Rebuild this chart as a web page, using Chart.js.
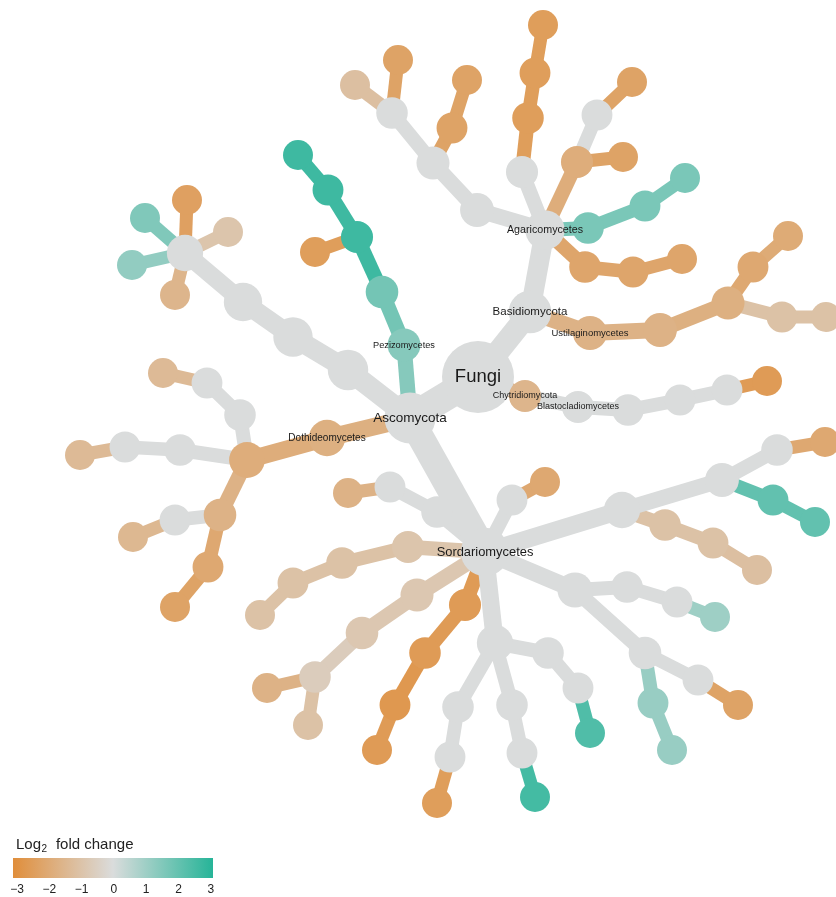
<!DOCTYPE html>
<html>
<head>
<meta charset="utf-8">
<title>Log2 fold change heat tree</title>
<script src="https://cdn.jsdelivr.net/npm/chart.js@4.4.1/dist/chart.umd.min.js"></script>
<style>
  html, body { margin: 0; padding: 0; background: #fff; }
  #wrap { width: 836px; height: 897px; position: relative; }
</style>
</head>
<body>
<div id="wrap"><canvas id="tree"></canvas></div>
<script>
// Taxon names (blank = unlabelled node)
const taxonNames = [
  'Fungi', 'Ascomycota', 'Basidiomycota', 'Chytridiomycota', 'Blastocladiomycetes', '', '', '', '', 'Agaricomycetes',
  'Ustilaginomycetes', '', '', '', '', '', '', '', '', '',
  '', '', '', '', '', '', '', '', '', '',
  '', '', '', '', '', '', '', '', 'Pezizomycetes', '',
  '', '', '', '', '', '', '', '', '', '',
  '', '', '', 'Dothideomycetes', '', '', '', '', '', '',
  '', '', '', '', '', '', 'Sordariomycetes', '', '', '',
  '', '', '', '', '', '', '', '', '', '',
  '', '', '', '', '', '', '', '', '', '',
  '', '', '', '', '', '', '', '', '', '',
  '', '', '', '', '', '', '', '', '', '',
  '', '', ''
];

// Parent index of every node (-1 = root)
const parentIndex = [
  -1, 0, 0, 0, 3, 4, 5, 6, 7, 2,
  2, 10, 11, 12, 13, 12, 15, 9, 17, 18,
  9, 20, 21, 9, 23, 23, 25, 9, 27, 28,
  29, 9, 31, 32, 33, 32, 35, 35, 1, 38,
  39, 40, 41, 40, 1, 44, 45, 46, 47, 47,
  47, 47, 47, 1, 53, 54, 55, 56, 54, 58,
  59, 54, 61, 62, 61, 64, 1, 66, 67, 68,
  66, 70, 66, 72, 73, 74, 73, 76, 72, 78,
  79, 66, 81, 82, 83, 81, 85, 86, 85, 88,
  66, 90, 91, 92, 90, 94, 95, 90, 97, 98,
  66, 100, 101, 102, 66, 104, 105, 106, 66, 108,
  109, 110, 110
];

// Layout coordinates of the heat tree
const layoutX = [
  478, 410, 530, 525, 578, 628, 680, 727, 767, 545,
  590, 660, 728, 753, 788, 782, 826, 588, 645, 685,
  585, 633, 682, 577, 623, 597, 632, 522, 528, 535,
  543, 477, 433, 452, 467, 392, 355, 398, 404, 382,
  357, 328, 298, 315, 348, 293, 243, 185, 187, 228,
  175, 145, 132, 327, 247, 240, 207, 163, 180, 125,
  80, 220, 208, 175, 175, 133, 485, 437, 390, 348,
  512, 545, 622, 722, 777, 825, 773, 815, 665, 713,
  757, 575, 627, 677, 715, 645, 698, 738, 653, 672,
  495, 548, 578, 590, 512, 522, 535, 458, 450, 437,
  465, 425, 395, 377, 408, 342, 293, 260, 417, 362,
  315, 267, 308
];
const layoutY = [
  377, 418, 312, 396, 407, 410, 400, 390, 381, 230,
  333, 330, 303, 267, 236, 317, 317, 228, 206, 178,
  267, 272, 259, 162, 157, 115, 82, 172, 118, 73,
  25, 210, 163, 128, 80, 113, 85, 60, 345, 292,
  237, 190, 155, 252, 370, 337, 302, 253, 200, 232,
  295, 218, 265, 438, 460, 415, 383, 373, 450, 447,
  455, 515, 567, 607, 520, 537, 552, 512, 487, 493,
  500, 482, 510, 480, 450, 442, 500, 522, 525, 543,
  570, 590, 587, 602, 617, 653, 680, 705, 703, 750,
  643, 653, 688, 733, 705, 753, 797, 707, 757, 803,
  605, 653, 705, 750, 547, 563, 583, 615, 595, 633,
  677, 688, 725
];

// Log2 fold change per taxon
const log2FoldChange = [
  0, 0, 0, -1.5, 0, 0, 0, 0, -2.5, 0,
  -1.6, -1.6, -1.7, -2.0, -1.9, -1.0, -1.0, 1.6, 1.6, 1.6,
  -2.1, -2.1, -2.1, -1.8, -2.2, 0, -2.2, 0, -2.4, -2.4,
  -2.4, 0, 0, -2.2, -2.2, 0, -1.1, -2.2, 1.4, 1.7,
  2.6, 2.6, 2.6, -2.4, 0, 0, 0, 0, -2.3, -0.9,
  -1.5, 1.5, 1.2, -1.7, -1.8, 0, 0, -1.3, 0, 0,
  -1.3, -1.6, -2.0, -2.2, 0, -1.4, 0, 0, 0, -1.6,
  0, -2.0, 0, 0, 0, -2.0, 2.0, 2.0, -1.0, -1.0,
  -1.1, 0, 0, 0, 1.0, 0, 0, -2.2, 1.1, 1.1,
  0, 0, 0, 2.3, 0, 0, 2.5, 0, 0, -2.4,
  -2.5, -2.5, -2.6, -2.5, -0.9, -1.0, -1.0, -1.0, -0.8, -0.8,
  -0.6, -1.6, -1.0
];

// OTU count per taxon (drives node and edge size)
const otuCount = [
  441, 121, 49, 4, 4, 3, 2, 2, 1, 30,
  9, 8, 6, 2, 1, 2, 1, 3, 2, 1,
  3, 2, 1, 4, 1, 2, 1, 4, 3, 2,
  1, 8, 6, 2, 1, 3, 1, 1, 6, 5,
  4, 2, 1, 1, 36, 30, 25, 16, 1, 1,
  1, 1, 1, 16, 14, 3, 2, 1, 3, 2,
  1, 5, 2, 1, 2, 1, 95, 3, 2, 1,
  2, 1, 16, 8, 3, 1, 2, 1, 3, 2,
  1, 12, 3, 2, 1, 5, 2, 1, 2, 1,
  16, 3, 2, 1, 3, 2, 1, 3, 2, 1,
  4, 3, 2, 1, 4, 3, 2, 1, 6, 5,
  3, 1, 1
];

// Colour legend ticks
const legendTicks = [-3, -2, -1, 0, 1, 2, 3];

const lowColor = [224, 142, 59];
const midColor = [218, 220, 220];
const highColor = [38, 180, 152];

function foldColor(v) {
  const t = Math.max(-1, Math.min(1, v / 3));
  const end = t < 0 ? lowColor : highColor;
  const f = Math.abs(t);
  const c = midColor.map((m, i) => Math.round(m + (end[i] - m) * f));
  return 'rgb(' + c.join(',') + ')';
}
function nodeRadius(n) { return 15 + 1.05 * (Math.sqrt(n) - 1); }
function edgeWidth(n) { return 13 + 1.55 * (Math.sqrt(n) - 1); }

// Edges: one small line dataset for each parent -> child link
const datasets = [];
parentIndex.forEach((p, i) => {
  if (p < 0) return;
  datasets.push({
    type: 'line',
    data: [{ x: layoutX[p], y: layoutY[p] }, { x: layoutX[i], y: layoutY[i] }],
    borderColor: foldColor(log2FoldChange[i]),
    borderWidth: edgeWidth(otuCount[i]),
    borderCapStyle: 'butt',
    pointRadius: 0,
    fill: false,
    clip: false,
    order: 1
  });
});

// Nodes on top
datasets.push({
  type: 'scatter',
  data: layoutX.map((x, i) => ({ x: x, y: layoutY[i] })),
  pointRadius: otuCount.map(nodeRadius),
  pointHoverRadius: otuCount.map(nodeRadius),
  backgroundColor: log2FoldChange.map(foldColor),
  borderWidth: 0,
  clip: false,
  order: 0
});

const labelPlugin = {
  id: 'taxonLabels',
  afterDatasetsDraw(chart) {
    const ctx = chart.ctx;
    const xs = chart.scales.x, ys = chart.scales.y;
    ctx.save();
    ctx.fillStyle = '#1a1a1a';
    ctx.textAlign = 'center';
    ctx.textBaseline = 'middle';
    taxonNames.forEach((name, i) => {
      if (!name) return;
      const size = 8 + 0.5 * Math.sqrt(otuCount[i]);
      ctx.font = size.toFixed(1) + 'px "Liberation Sans", Arial, sans-serif';
      ctx.fillText(name, xs.getPixelForValue(layoutX[i]), ys.getPixelForValue(layoutY[i]));
    });
    ctx.restore();
  },
  afterDraw(chart) {
    const ctx = chart.ctx;
    ctx.save();
    // legend title
    ctx.fillStyle = '#222';
    ctx.textBaseline = 'alphabetic';
    ctx.textAlign = 'left';
    ctx.font = '15px "Liberation Sans", Arial, sans-serif';
    let x = 16;
    ctx.fillText('Log', x, 849);
    x += ctx.measureText('Log').width;
    ctx.font = '10px "Liberation Sans", Arial, sans-serif';
    ctx.fillText('2', x + 0.5, 852);
    x += ctx.measureText('2').width + 1;
    ctx.font = '15px "Liberation Sans", Arial, sans-serif';
    ctx.fillText('  fold change', x, 849);

    // gradient bar
    const grad = ctx.createLinearGradient(13, 0, 213, 0);
    grad.addColorStop(0, foldColor(-3));
    grad.addColorStop(0.5, foldColor(0));
    grad.addColorStop(1, foldColor(3));
    ctx.fillStyle = grad;
    ctx.fillRect(13, 858, 200, 20);

    // tick labels
    ctx.fillStyle = '#222';
    ctx.textAlign = 'center';
    ctx.textBaseline = 'middle';
    ctx.font = '12px "Liberation Sans", Arial, sans-serif';
    legendTicks.forEach(v => {
      const label = v < 0 ? '\u2212' + Math.abs(v) : String(v);
      ctx.fillText(label, 17 + (v + 3) * 32.3, 890);
    });
    ctx.restore();
  }
};

new Chart(document.getElementById('tree'), {
  type: 'scatter',
  data: { datasets: datasets },
  options: {
    responsive: true,
    maintainAspectRatio: false,
    animation: false,
    layout: { padding: 0, autoPadding: false },
    plugins: {
      legend: { display: false },
      tooltip: { enabled: false }
    },
    scales: {
      x: { type: 'linear', min: 0, max: 836, display: false },
      y: { type: 'linear', min: 0, max: 897, reverse: true, display: false }
    }
  },
  plugins: [labelPlugin]
});
</script>
</body>
</html>
